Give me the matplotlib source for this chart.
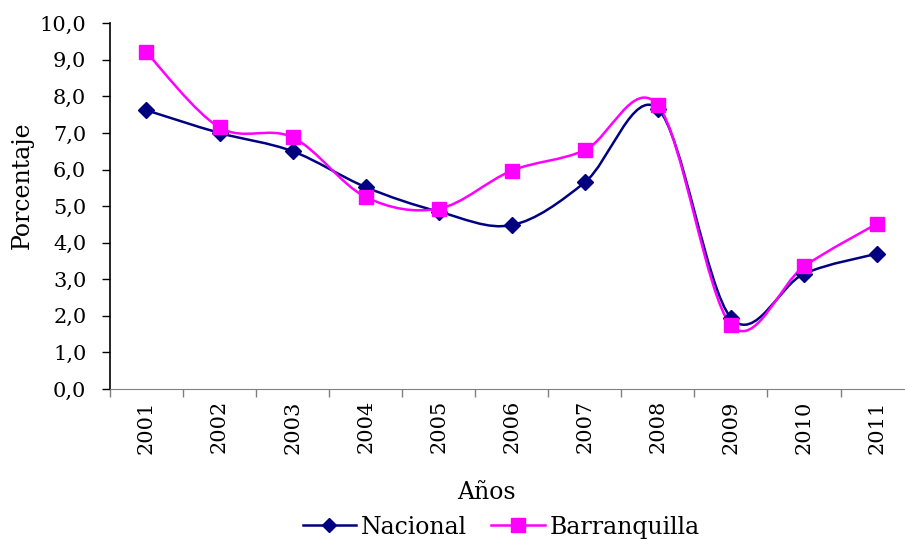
import numpy as np
import matplotlib
matplotlib.use("Agg")
import matplotlib.pyplot as plt
from matplotlib.path import Path
from matplotlib.patches import PathPatch
from matplotlib.lines import Line2D

years = ["2001", "2002", "2003", "2004", "2005", "2006", "2007", "2008", "2009", "2010", "2011"]
nacional = [7.62, 7.00, 6.50, 5.52, 4.85, 4.48, 5.65, 7.66, 1.95, 3.15, 3.70]
barranquilla = [9.20, 7.15, 6.88, 5.25, 4.93, 5.97, 6.53, 7.76, 1.75, 3.35, 4.52]

NAVY = "#000080"
MAGENTA = "#FF00FF"

plt.rcParams['font.family'] = ['DejaVu Serif']


def smooth_path(x, y, k=1 / 6):
    # excel-like smoothed line: cubic bezier through every point
    pts = np.column_stack([x, y]).astype(float)
    n = len(pts)
    verts = [pts[0]]
    codes = [Path.MOVETO]
    for i in range(n - 1):
        p0 = pts[max(i - 1, 0)]
        p1 = pts[i]
        p2 = pts[i + 1]
        p3 = pts[min(i + 2, n - 1)]
        c1 = p1 + (p2 - p0) * k
        c2 = p2 - (p3 - p1) * k
        verts += [c1, c2, p2]
        codes += [Path.CURVE4] * 3
    return Path(verts, codes)


fig = plt.figure(figsize=(9.05, 5.4), dpi=100)
ax = fig.add_axes([0.1215, 0.2796, 0.888, 0.6774])

x = np.arange(len(years))
for vals, col, mk, ms in [(nacional, NAVY, 'D', 8.5), (barranquilla, MAGENTA, 's', 10.5)]:
    ax.add_patch(PathPatch(smooth_path(x, vals), facecolor='none', edgecolor=col, lw=1.8, zorder=2))
    ax.plot(x, vals, linestyle='none', marker=mk, ms=ms, color=col, zorder=3)

ax.set_xlim(-0.5, len(years) - 0.5)
ax.set_ylim(0, 10)
ax.set_yticks(np.arange(0, 11, 1))
ax.set_yticklabels([f"{v:.1f}".replace(".", ",") for v in np.arange(0, 11, 1)], fontsize=15)
ax.set_xticks(np.arange(-0.5, len(years), 1), minor=False)
ax.set_xticklabels([])
ax.set_xticks(x, minor=True)
ax.set_xticklabels(years, minor=True, rotation=90, fontsize=15)
ax.tick_params(axis='x', which='minor', length=0, pad=8)
ax.tick_params(axis='x', which='major', length=6, color='#808080', width=1)
ax.tick_params(axis='y', length=6, width=1, color='black', pad=11)

for s in ['top', 'right']:
    ax.spines[s].set_visible(False)
ax.spines['bottom'].set_color('#808080')
ax.spines['left'].set_color('black')
ax.spines['left'].set_linewidth(1.2)

ax.set_ylabel("Porcentaje", fontsize=17)
ax.yaxis.set_label_coords(-0.0946, 0.557)
ax.set_xlabel("Años", fontsize=17)
ax.xaxis.set_label_coords(0.468, -0.251)

handles = [Line2D([], [], color=NAVY, lw=1.8, marker='D', ms=7.5),
           Line2D([], [], color=MAGENTA, lw=1.8, marker='s', ms=10)]
fig.legend(handles, ["Nacional", "Barranquilla"], loc='center', bbox_to_anchor=(0.5536, 0.024),
           ncol=2, frameon=False, fontsize=17, handlelength=2.25, handletextpad=0.2,
           columnspacing=1.05, borderpad=0, borderaxespad=0)

fig.savefig("out.png", dpi=100)
